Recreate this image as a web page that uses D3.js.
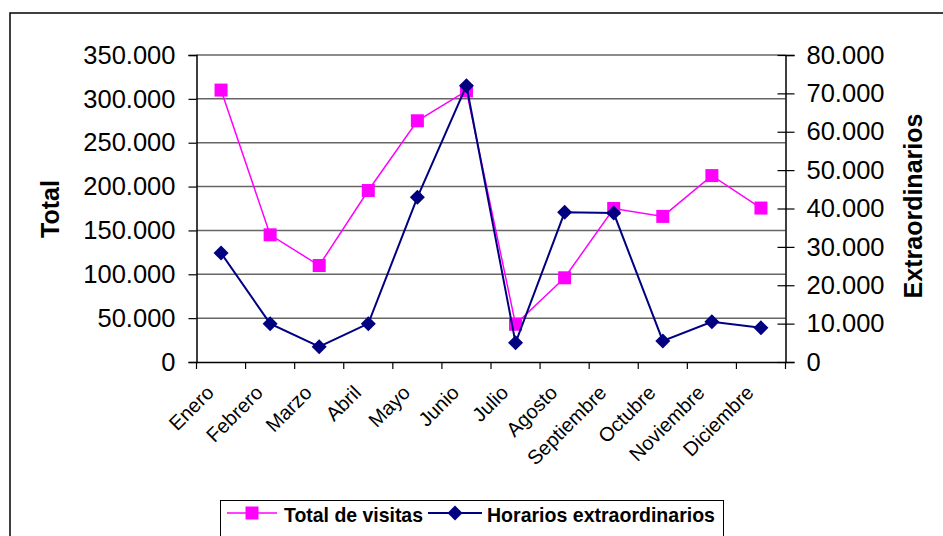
<!DOCTYPE html>
<html><head><meta charset="utf-8">
<script src="https://cdn.jsdelivr.net/npm/d3@7"></script>
<style>
html,body{margin:0;padding:0;background:#fff;}
svg{display:block;font-family:"Liberation Sans",Arial,sans-serif;}
</style></head>
<body><svg id="c" width="943" height="536"></svg>
<script>
const months = ["Enero","Febrero","Marzo","Abril","Mayo","Junio","Julio","Agosto","Septiembre","Octubre","Noviembre","Diciembre"];
const totalVisitas = [310000,145000,110000,195500,275000,309000,43000,96000,175000,166000,212500,175500];
const horariosExtra = [28400,10000,4000,10000,42900,72000,5000,39000,38800,5500,10500,8900];
const leftTicks = [0,50000,100000,150000,200000,250000,300000,350000];
const rightTicks = [0,10000,20000,30000,40000,50000,60000,70000,80000];
const seriesNames = ["Total de visitas","Horarios extraordinarios"];

const svg = d3.select("#c");
const L = 196.5, R = 785.5, T = 55, B = 362;
const fmt = v => v === 0 ? "0" : d3.format(",")(v).replace(/,/g, ".");

const x = d3.scaleBand().domain(months).range([L, R]).padding(0);
const yL = d3.scaleLinear().domain([0, 350000]).range([B, T]);
const yR = d3.scaleLinear().domain([0, 80000]).range([B, T]);

// outer border
svg.append("rect").attr("x", 10).attr("y", 13).attr("width", 960).attr("height", 560)
  .attr("fill", "none").attr("stroke", "#000").attr("stroke-width", 1.5);

// gridlines
svg.append("g").selectAll("line").data(leftTicks.filter(d => d > 0)).join("line")
  .attr("x1", L).attr("x2", R).attr("y1", d => yL(d)).attr("y2", d => yL(d))
  .attr("stroke", "#666").attr("stroke-width", 1.5);

// left axis
const gL = svg.append("g").attr("transform", `translate(${L},0)`)
  .call(d3.axisLeft(yL).tickValues(leftTicks).tickFormat(fmt).tickSize(8).tickPadding(13));
gL.select(".domain").attr("stroke", "#000").attr("stroke-width", 1.5);
gL.selectAll(".tick line").attr("stroke", "#000").attr("stroke-width", 1.2);
gL.selectAll(".tick text").attr("font-size", "25.5px").attr("fill", "#000")
  .attr("font-family", "Liberation Sans, Arial, sans-serif");

// right axis
const gR = svg.append("g").attr("transform", `translate(${R},0)`)
  .call(d3.axisRight(yR).tickValues(rightTicks).tickFormat(fmt).tickSize(9).tickPadding(12));
gR.select(".domain").attr("stroke", "#000").attr("stroke-width", 1.5);
gR.selectAll(".tick line").attr("x1", -8).attr("stroke", "#000").attr("stroke-width", 1.2);
gR.selectAll(".tick text").attr("font-size", "25.5px").attr("fill", "#000")
  .attr("font-family", "Liberation Sans, Arial, sans-serif");

// bottom axis
const gB = svg.append("g").attr("transform", `translate(0,${B})`)
  .call(d3.axisBottom(x).tickSize(0).tickPadding(0));
gB.select(".domain").attr("stroke", "#000").attr("stroke-width", 1.5);
gB.selectAll(".tick text")
  .attr("font-size", "20px").attr("fill", "#000")
  .attr("font-family", "Liberation Sans, Arial, sans-serif")
  .attr("text-anchor", "end").attr("dy", 0).attr("y", 0)
  .attr("transform", "translate(-6,32) rotate(-45)");
const bounds = months.map(m => x(m)).concat([R]);
svg.append("g").selectAll("line").data(bounds).join("line")
  .attr("x1", d => d).attr("x2", d => d).attr("y1", B).attr("y2", B + 7)
  .attr("stroke", "#000").attr("stroke-width", 1.2);

// axis titles
svg.append("text").attr("transform", "translate(59,209) rotate(-90)")
  .attr("text-anchor", "middle").attr("font-size", "25px").attr("font-weight", "bold").text("Total");
svg.append("text").attr("transform", "translate(922,206) rotate(-90)")
  .attr("text-anchor", "middle").attr("font-size", "25px").attr("font-weight", "bold").text("Extraordinarios");

const cx = m => x(m) + x.bandwidth() / 2;

// series 1: Total de visitas
const line1 = d3.line().x((d, i) => cx(months[i])).y(d => yL(d));
svg.append("path").datum(totalVisitas).attr("d", line1)
  .attr("fill", "none").attr("stroke", "#FF00FF").attr("stroke-width", 1.5);
svg.append("g").selectAll("rect").data(totalVisitas).join("rect")
  .attr("x", (d, i) => cx(months[i]) - 6.5).attr("y", d => yL(d) - 6.5)
  .attr("width", 13).attr("height", 13).attr("fill", "#FF00FF");

// series 2: Horarios extraordinarios
const line2 = d3.line().x((d, i) => cx(months[i])).y(d => yR(d));
svg.append("path").datum(horariosExtra).attr("d", line2)
  .attr("fill", "none").attr("stroke", "#000080").attr("stroke-width", 2);
const diamond = "M0,-7.5L7.5,0L0,7.5L-7.5,0Z";
svg.append("g").selectAll("path").data(horariosExtra).join("path")
  .attr("transform", (d, i) => `translate(${cx(months[i])},${yR(d)})`)
  .attr("d", diamond).attr("fill", "#000080");

// legend
const lg = svg.append("g");
lg.append("rect").attr("x", 220.5).attr("y", 500.5).attr("width", 503).attr("height", 45)
  .attr("fill", "#fff").attr("stroke", "#000").attr("stroke-width", 1);
const ly = 513;
lg.append("line").attr("x1", 227).attr("x2", 277).attr("y1", ly).attr("y2", ly)
  .attr("stroke", "#FF00FF").attr("stroke-width", 1.5);
lg.append("rect").attr("x", 252 - 6.5).attr("y", ly - 6.5).attr("width", 13).attr("height", 13).attr("fill", "#FF00FF");
lg.append("text").attr("x", 284).attr("y", 522).attr("font-size", "21px").attr("font-weight", "bold")
  .attr("textLength", 139).attr("lengthAdjust", "spacingAndGlyphs").text(seriesNames[0]);
lg.append("line").attr("x1", 428).attr("x2", 482).attr("y1", ly).attr("y2", ly)
  .attr("stroke", "#000080").attr("stroke-width", 2);
lg.append("path").attr("transform", `translate(455,${ly})`).attr("d", diamond).attr("fill", "#000080");
lg.append("text").attr("x", 487).attr("y", 522).attr("font-size", "21px").attr("font-weight", "bold")
  .attr("textLength", 228).attr("lengthAdjust", "spacingAndGlyphs").text(seriesNames[1]);
</script></body></html>
